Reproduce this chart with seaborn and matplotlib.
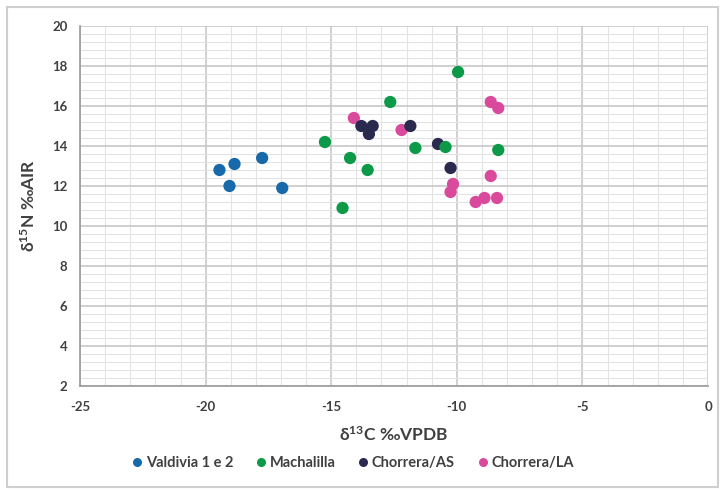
import numpy as np
import pandas as pd
import matplotlib
matplotlib.use("Agg")
import matplotlib.pyplot as plt
from matplotlib.ticker import MultipleLocator
from matplotlib.lines import Line2D
from matplotlib.patches import Rectangle
import seaborn as sns

# Isotope measurements per group (δ13C ‰VPDB, δ15N ‰AIR)
valdivia_c = [-19.45, -18.85, -17.75, -19.05, -16.95]
valdivia_n = [12.8, 13.1, 13.4, 12.0, 11.9]

machalilla_c = [-9.95, -12.65, -15.25, -14.25, -13.55, -14.55, -11.65, -10.45, -8.35]
machalilla_n = [17.7, 16.2, 14.2, 13.4, 12.8, 10.9, 13.9, 13.95, 13.8]

chorrera_as_c = [-13.8, -13.35, -13.5, -11.85, -10.75, -10.25]
chorrera_as_n = [15.0, 15.0, 14.6, 15.0, 14.1, 12.9]

chorrera_la_c = [-14.1, -12.2, -8.65, -8.35, -8.65, -10.15, -10.25, -9.25, -8.9, -8.4]
chorrera_la_n = [15.4, 14.8, 16.2, 15.9, 12.5, 12.1, 11.7, 11.2, 11.4, 11.4]

groups = ["Valdivia 1 e 2", "Machalilla", "Chorrera/AS", "Chorrera/LA"]
colors = {
    "Valdivia 1 e 2": "#1769AA",
    "Machalilla": "#0C9A48",
    "Chorrera/AS": "#2A2A4E",
    "Chorrera/LA": "#DA4A9C",
}

x_ticks = [-25, -20, -15, -10, -5, 0]
y_ticks = [2, 4, 6, 8, 10, 12, 14, 16, 18, 20]

# Build the long table; later rows are drawn on top
frames = []
for name, xs, ys in [
    ("Chorrera/LA", chorrera_la_c, chorrera_la_n),
    ("Chorrera/AS", chorrera_as_c, chorrera_as_n),
    ("Machalilla", machalilla_c, machalilla_n),
    ("Valdivia 1 e 2", valdivia_c, valdivia_n),
]:
    frames.append(pd.DataFrame({"d13C": xs, "d15N": ys, "group": name}))
df = pd.concat(frames, ignore_index=True)

sns.set_style("white")
plt.rcParams["font.family"] = ["Lato", "DejaVu Sans"]
plt.rcParams["mathtext.fontset"] = "custom"
plt.rcParams["mathtext.rm"] = "Lato:bold"
plt.rcParams["mathtext.default"] = "regular"
plt.rcParams["axes.unicode_minus"] = False

fig = plt.figure(figsize=(7.21, 4.91), dpi=100)
ax = fig.add_axes([0.111, 0.214, 0.871, 0.733])

sns.scatterplot(
    data=df, x="d13C", y="d15N", hue="group", hue_order=groups,
    palette=colors, s=78, edgecolor="none", linewidth=0, alpha=1.0,
    legend=False, ax=ax, zorder=3,
)

ax.set_xlim(-25, 0)
ax.set_ylim(2, 20)
ax.set_xticks(x_ticks)
ax.set_yticks(y_ticks)
ax.xaxis.set_minor_locator(MultipleLocator(1))
ax.yaxis.set_minor_locator(MultipleLocator(0.4))

ax.grid(which="major", color="#C4C4C4", linewidth=1.1, zorder=0)
ax.grid(which="minor", color="#E3E3E3", linewidth=0.8, zorder=0)
ax.set_axisbelow(True)

for side in ["top", "right"]:
    ax.spines[side].set_visible(False)
for side in ["left", "bottom"]:
    ax.spines[side].set_color("#9A9A9A")
    ax.spines[side].set_linewidth(1.2)

ax.tick_params(axis="both", which="major", direction="out", length=5,
               width=1.0, color="#9A9A9A", labelsize=9.5,
               labelcolor="#404040")
ax.tick_params(axis="x", which="major", pad=6)
ax.tick_params(axis="y", which="major", pad=4)
ax.tick_params(axis="both", which="minor", length=0)
for lab in ax.get_xticklabels() + ax.get_yticklabels():
    lab.set_fontweight("bold")

ax.set_xlabel(r"δ$^{13}$C ‰VPDB", fontsize=12.5, fontweight="bold",
              color="#404040", labelpad=9)
ax.set_ylabel(r"δ$^{15}$N ‰AIR", fontsize=12.5, fontweight="bold",
              color="#404040", labelpad=10)

handles = [Line2D([0], [0], marker="o", linestyle="none", markersize=6.5,
                  markerfacecolor=colors[g], markeredgecolor="none")
           for g in groups]
leg = fig.legend(handles, groups, loc="center", bbox_to_anchor=(0.487, 0.057),
                 ncol=4, frameon=False, handletextpad=0.0, columnspacing=1.3,
                 handlelength=1.2, prop={"weight": "bold", "size": 10.5})
for t in leg.get_texts():
    t.set_color("#404040")

# Chart-area frame
fig.patches.append(Rectangle((7 / 721, 4 / 491), 711 / 721, 480 / 491,
                             transform=fig.transFigure, fill=False,
                             edgecolor="#CFCFCF", linewidth=1.5))

fig.savefig("out.png", dpi=100)
